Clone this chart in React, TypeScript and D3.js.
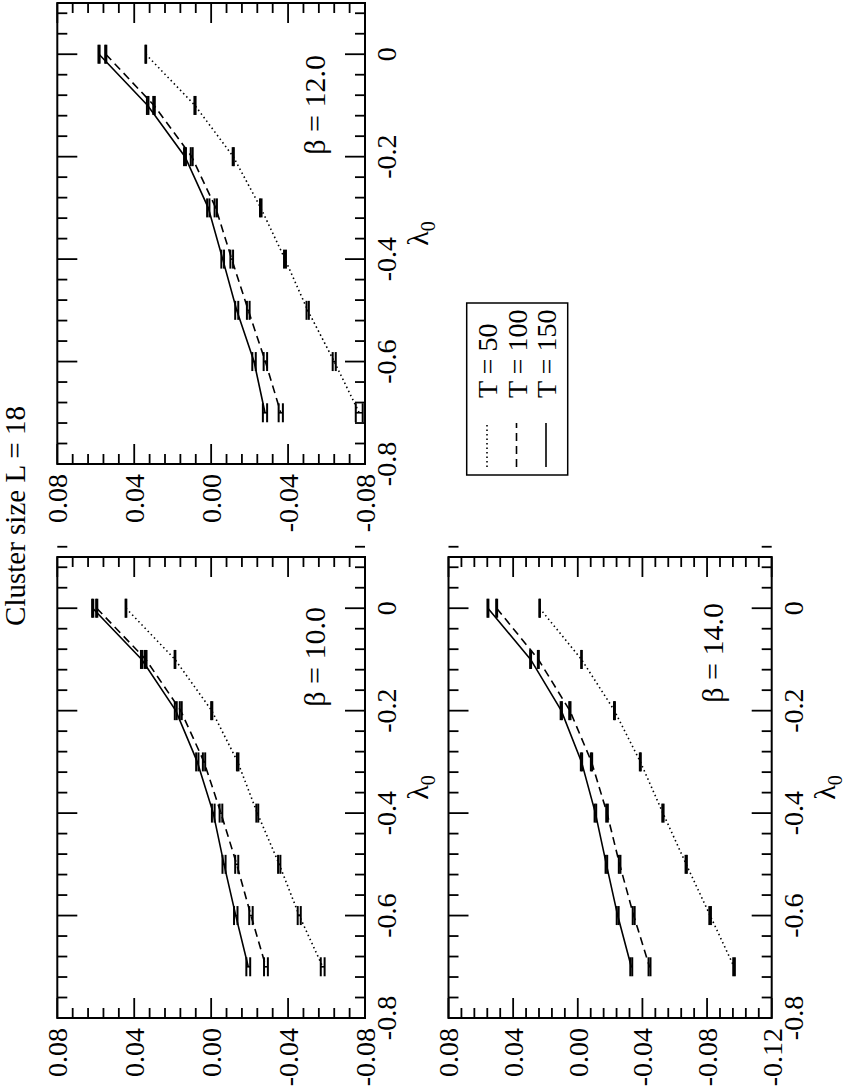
import React from 'react';
import * as d3 from 'd3';

// ---------------- DATA ----------------
const lambda0 = [0, -0.1, -0.2, -0.3, -0.4, -0.5, -0.6, -0.7];
const seriesNames = ['T = 50', 'T = 100', 'T = 150'];
const titleText = 'Cluster size L = 18';

// beta = 10.0
const b10_T50 = [0.0443, 0.0188, -0.0003, -0.0138, -0.024, -0.0354, -0.0458, -0.058];
const b10_T100 = [0.0595, 0.034, 0.0158, 0.0037, -0.0051, -0.0133, -0.0207, -0.0285];
const b10_T150 = [0.0616, 0.0361, 0.0184, 0.0072, -0.0011, -0.0067, -0.0128, -0.0193];
const b10_err50 = [0.0002, 0.0002, 0.0003, 0.0004, 0.0005, 0.0006, 0.0008, 0.001];
const b10_err100 = [0.0003, 0.0004, 0.0005, 0.0006, 0.0007, 0.0008, 0.0009, 0.001];
const b10_err150 = [0.0003, 0.0004, 0.0005, 0.0006, 0.0007, 0.0008, 0.0009, 0.001];

// beta = 12.0
const b12_T50 = [0.034, 0.0084, -0.0115, -0.0258, -0.0384, -0.0502, -0.064, -0.077];
const b12_T100 = [0.0548, 0.0297, 0.0101, -0.0024, -0.0107, -0.0193, -0.0282, -0.0362];
const b12_T150 = [0.0583, 0.033, 0.0136, 0.0015, -0.006, -0.0133, -0.0223, -0.028];
const b12_err50 = [0.0002, 0.0003, 0.0003, 0.0004, 0.0005, 0.0006, 0.0008, 0.0018];
const b12_err100 = [0.0003, 0.0004, 0.0005, 0.0006, 0.0007, 0.0007, 0.0009, 0.0011];
const b12_err150 = [0.0003, 0.0004, 0.0005, 0.0006, 0.0007, 0.0008, 0.0009, 0.0011];

// beta = 14.0
const b14_T50 = [0.0236, -0.0023, -0.0227, -0.0387, -0.0527, -0.0671, -0.0819, -0.0967];
const b14_T100 = [0.0502, 0.0244, 0.0049, -0.0085, -0.0181, -0.0259, -0.0346, -0.0444];
const b14_T150 = [0.0556, 0.0292, 0.0102, -0.0023, -0.0109, -0.0177, -0.0247, -0.0331];
const b14_err50 = [0.0002, 0.0002, 0.0003, 0.0003, 0.0004, 0.0004, 0.0005, 0.0005];
const b14_err100 = [0.0003, 0.0003, 0.0004, 0.0004, 0.0005, 0.0005, 0.0006, 0.0006];
const b14_err150 = [0.0003, 0.0003, 0.0004, 0.0004, 0.0005, 0.0005, 0.0006, 0.0006];

const yTicksA = [0.08, 0.04, 0.0, -0.04, -0.08];
const yTicksC = [0.08, 0.04, 0.0, -0.04, -0.08, -0.12];
const xTicks = [-0.8, -0.6, -0.4, -0.2, 0];

// ---------------- LAYOUT (landscape coords, rotated at the end) ----------------
const W = 1090;
const FONT = '"Liberation Serif", "Times New Roman", Times, serif';
const dashes = ['1.5,3', '8,5', null];

type PanelProps = {
  x0: number; x1: number; y0: number; y1: number;
  yDomain: [number, number]; yTicks: number[];
  series: number[][]; errors: number[][];
  beta: string; betaX: number; betaY: number;
};

const fmtY = (v: number) => (Math.abs(v) < 1e-9 ? '0.00' : v.toFixed(2));
const fmtX = (v: number) => (Math.abs(v) < 1e-9 ? '0' : v.toFixed(1));

function Panel(p: PanelProps) {
  const xs = d3.scaleLinear().domain([-0.8, 0.1]).range([p.x0, p.x1]);
  const ys = d3.scaleLinear().domain(p.yDomain).range([p.y0, p.y1]);
  const nX = Math.round((0.1 - -0.8) / 0.04);
  const xMinor = d3.range(0, nX + 1).map((i) => -0.8 + i * 0.04).filter((_, i) => i % 5 !== 0);
  const nY = Math.round((p.yDomain[0] - p.yDomain[1]) / 0.008);
  const yMinor = d3.range(0, nY + 1).map((i) => p.yDomain[0] - i * 0.008).filter((_, i) => i % 5 !== 0);
  const MAJ = 20, MIN = 10;
  const line = d3.line<number>().x((_, i) => xs(lambda0[i])).y((d) => ys(d));
  return (
    <g>
      <rect x={p.x0} y={p.y0} width={p.x1 - p.x0} height={p.y1 - p.y0} fill="none" stroke="#000" strokeWidth={2} />
      {xTicks.map((t) => (
        <g key={'xM' + t}>
          <line x1={xs(t)} x2={xs(t)} y1={p.y1} y2={p.y1 - MAJ} stroke="#000" strokeWidth={1.8} />
          <line x1={xs(t)} x2={xs(t)} y1={p.y0} y2={p.y0 + MAJ} stroke="#000" strokeWidth={1.8} />
          <text x={xs(t)} y={p.y1 + 31} textAnchor="middle" fontSize={28} fontFamily={FONT}>{fmtX(t)}</text>
        </g>
      ))}
      {xMinor.map((t, i) => (
        <g key={'xm' + i}>
          <line x1={xs(t)} x2={xs(t)} y1={p.y1} y2={p.y1 - MIN} stroke="#000" strokeWidth={1.8} />
          <line x1={xs(t)} x2={xs(t)} y1={p.y0} y2={p.y0 + MIN} stroke="#000" strokeWidth={1.8} />
        </g>
      ))}
      {p.yTicks.map((t) => (
        <g key={'yM' + t}>
          <line x1={p.x0} x2={p.x0 + MAJ} y1={ys(t)} y2={ys(t)} stroke="#000" strokeWidth={1.8} />
          <line x1={p.x1} x2={p.x1 - MAJ} y1={ys(t)} y2={ys(t)} stroke="#000" strokeWidth={1.8} />
          <text x={p.x0 - 10} y={ys(t)} dy="0.35em" textAnchor="end" fontSize={28} fontFamily={FONT}>{fmtY(t)}</text>
        </g>
      ))}
      {yMinor.map((t, i) => (
        <g key={'ym' + i}>
          <line x1={p.x0} x2={p.x0 + MIN} y1={ys(t)} y2={ys(t)} stroke="#000" strokeWidth={1.8} />
          <line x1={p.x1} x2={p.x1 - MIN} y1={ys(t)} y2={ys(t)} stroke="#000" strokeWidth={1.8} />
        </g>
      ))}
      <text x={(p.x0 + p.x1) / 2} y={p.y1 + 63} textAnchor="middle" fontSize={30} fontFamily={FONT}>
        λ<tspan fontSize={20} dy={7}>0</tspan>
      </text>
      <text x={p.betaX} y={p.betaY} textAnchor="end" fontSize={30} fontFamily={FONT}>{p.beta}</text>
      {p.series.map((s, si) => (
        <g key={'s' + si}>
          <path d={line(s) || ''} fill="none" stroke="#000" strokeWidth={1.6}
            strokeDasharray={dashes[si] || undefined} />
          {s.map((v, i) => {
            const e = p.errors[si][i];
            const cx = xs(lambda0[i]);
            const ya = ys(v + e), yb = ys(v - e);
            return (
              <g key={i}>
                <line x1={cx} x2={cx} y1={ya} y2={yb} stroke="#000" strokeWidth={1.6} />
                <line x1={cx - 9.5} x2={cx + 9.5} y1={ya} y2={ya} stroke="#000" strokeWidth={2} />
                <line x1={cx - 9.5} x2={cx + 9.5} y1={yb} y2={yb} stroke="#000" strokeWidth={2} />
              </g>
            );
          })}
        </g>
      ))}
    </g>
  );
}

function Legend() {
  const bx0 = 615, bx1 = 787, by0 = 466.7, by1 = 567.7;
  const rowY = [487, 516.5, 546];
  const textY = [497, 527, 556];
  return (
    <g>
      <rect x={bx0} y={by0} width={bx1 - bx0} height={by1 - by0} fill="#fff" stroke="#000" strokeWidth={1.5} />
      {seriesNames.map((n, i) => (
        <g key={n}>
          <line x1={623} x2={667} y1={rowY[i]} y2={rowY[i]} stroke="#000" strokeWidth={1.6}
            strokeDasharray={dashes[i] || undefined} />
          <text x={692} y={textY[i]} fontSize={28} fontFamily={FONT}>{n}</text>
        </g>
      ))}
    </g>
  );
}

export default function App() {
  return (
    <svg width={850} height={1090} style={{ position: 'absolute', left: 0, top: 0, background: '#fff' }}>
      <rect x={0} y={0} width={850} height={1090} fill="#fff" />
      <g transform={`translate(0,${W}) rotate(-90)`}>
        <text x={574} y={25} textAnchor="middle" fontSize={29} fontFamily={FONT}>{titleText}</text>
        <Panel x0={72} x1={533} y0={57.3} y1={365} yDomain={[0.08, -0.08]} yTicks={yTicksA}
          series={[b10_T50, b10_T100, b10_T150]} errors={[b10_err50, b10_err100, b10_err150]}
          beta="β = 10.0" betaX={483} betaY={325} />
        <Panel x0={626} x1={1087} y0={57.3} y1={365} yDomain={[0.08, -0.08]} yTicks={yTicksA}
          series={[b12_T50, b12_T100, b12_T150]} errors={[b12_err50, b12_err100, b12_err150]}
          beta="β = 12.0" betaX={1035} betaY={325} />
        <Panel x0={72} x1={533} y0={448.5} y1={771.7} yDomain={[0.08, -0.12]} yTicks={yTicksC}
          series={[b14_T50, b14_T100, b14_T150]} errors={[b14_err50, b14_err100, b14_err150]}
          beta="β = 14.0" betaX={487} betaY={723} />
        <Legend />
      </g>
    </svg>
  );
}
